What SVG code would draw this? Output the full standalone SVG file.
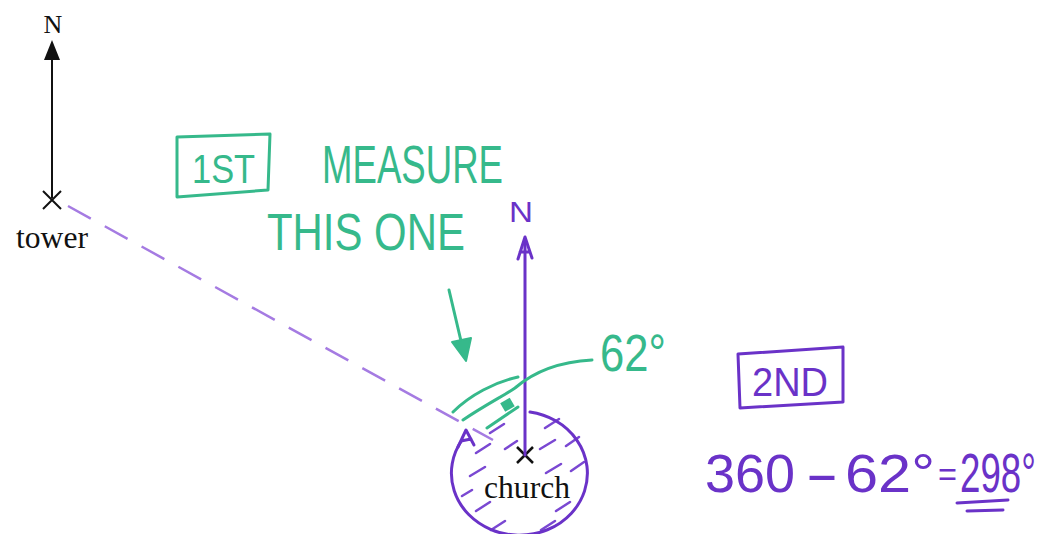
<svg xmlns="http://www.w3.org/2000/svg" width="1054" height="534" viewBox="0 0 1054 534">
<style>
.serif{font-family:"Liberation Serif","Times New Roman",serif;fill:#111}
.hand{font-family:"Liberation Sans",Arial,sans-serif;font-weight:normal}
.g{fill:#36b98b}
.p{fill:#6a32c8}
.gs{fill:none;stroke:#36b98b;stroke-width:3;stroke-linecap:round;stroke-linejoin:round}
.ps{fill:none;stroke:#6a32c8;stroke-width:3;stroke-linecap:round;stroke-linejoin:round}
.hatch{fill:none;stroke:#7a48d2;stroke-width:2.5;stroke-linecap:round}
.blk{fill:none;stroke:#111;stroke-width:2}
</style>
<rect width="1054" height="534" fill="#ffffff"/>
<g id="tower">
  <path class="blk" d="M43 191 L61 209 M61 191 L43 209"/>
  <text class="serif" x="16" y="248" font-size="31" textLength="72" lengthAdjust="spacingAndGlyphs">tower</text>
</g>
<g id="tower-north">
  <line class="blk" x1="52" y1="198" x2="52" y2="58"/>
  <polygon points="52,40 44,60 60,60" fill="#111"/>
  <text class="serif" x="53" y="33" font-size="26" text-anchor="middle">N</text>
</g>
<g id="church">
  <path class="hatch" d="M490 433 L504 424 M545 428 L559 419 M476 453 L490 444 M505 449 L517 441 M540 449 L555 440 M566 446 L579 437 M470 476 L485 467 M546 473 L561 464 M571 471 L584 462 M476 511 L490 502 M556 511 L570 502 M491 530 L505 521 M541 530 L555 521 M462 496 L472 490"/>
  <path class="ps" d="M530 412 A68 62 0 1 1 462 440"/>
  <path class="ps" d="M458 447 L466 430 L474 445 M461 441 L471 439"/>
  <path d="M517 447 L533 463 M533 447 L517 463" fill="none" stroke="#111" stroke-width="2.5"/>
  <text class="serif" x="484" y="498" font-size="31" textLength="86" lengthAdjust="spacingAndGlyphs">church</text>
</g>
<g id="church-north">
  <line class="ps" x1="525" y1="455" x2="525" y2="242"/>
  <path class="ps" d="M518 259 L525 237 L532 258 M520 252 L530 252"/>
  <text class="hand p" x="509" y="222" font-size="30" textLength="24" lengthAdjust="spacingAndGlyphs">N</text>
</g>
<g id="note-1st">
  <polygon class="gs" points="177,137 270,134 268,190 177,197"/>
  <text class="hand g" transform="translate(192 183) scale(1 1.16)" x="0" y="0" font-size="34.4">1ST</text>
  <text class="hand g" transform="translate(322 183) scale(1 1.45)" x="0" y="0" font-size="36.6">MEASURE</text>
  <text class="hand g" transform="translate(267 250) scale(1 1.23)" x="0" y="0" font-size="41.9">THIS ONE</text>
</g>
<g id="angle-62">
  <text class="hand g" transform="translate(600 371) scale(1 1.2)" x="0" y="0" font-size="43.6">62°</text>
</g>
<g id="note-2nd">
  <polygon class="ps" points="738,354 843,347 843,402 740,408"/>
  <text class="hand p" transform="translate(752 396) scale(1 1.05)" x="0" y="0" font-size="38">2ND</text>
  <text class="hand p" x="705" y="492" font-size="54" textLength="90" lengthAdjust="spacingAndGlyphs">360</text>
  <text class="hand p" x="805" y="492" font-size="54" textLength="34" lengthAdjust="spacingAndGlyphs">-</text>
  <text class="hand p" x="845" y="492" font-size="54" textLength="90" lengthAdjust="spacingAndGlyphs">62°</text>
  <text class="hand p" x="938" y="486" font-size="34" textLength="19" lengthAdjust="spacingAndGlyphs">=</text>
  <text class="hand p" transform="translate(960 492) scale(1 1.5)" x="0" y="0" font-size="36.7">298°</text>
  <path class="ps" d="M957 503 L1008 500 M967 511 L1003 510"/>
</g>
<g id="connectors">
  <line x1="68" y1="206" x2="493" y2="440" stroke="#a57be2" stroke-width="2.5" stroke-dasharray="26,16"/>
  <path class="gs" d="M449 290 L461 341"/>
  <polygon points="466,361 452,342 471,338" fill="#36b98b" stroke="#36b98b" stroke-width="2" stroke-linejoin="round"/>
  <path class="gs" d="M453 412 C470 395 495 382 518 377"/>
  <path class="gs" d="M463 420 C485 405 505 395 515 388 C530 375 555 362 592 360"/>
  <path class="gs" d="M487 428 L518 407"/>
  <rect x="502" y="400" width="11" height="10" fill="#36b98b" transform="rotate(-30 507 405)"/>
</g>
</svg>
